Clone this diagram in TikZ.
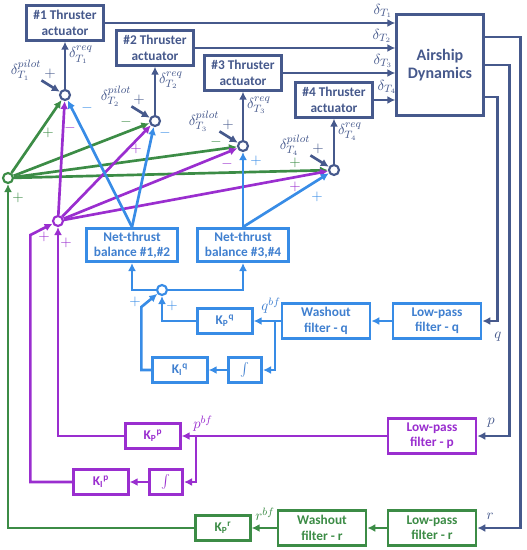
\documentclass[tikz,border=0pt]{standalone}
\usepackage{fontspec}
\setsansfont{Carlito}
\usepackage{xcolor}
\definecolor{DynNavy}{HTML}{46598C}
\definecolor{PitchBlue}{HTML}{388CE6}
\definecolor{PitchText}{HTML}{4080D0}
\definecolor{RollPurple}{HTML}{9A2ECF}
\definecolor{YawGreen}{HTML}{3C8C46}
\usepackage{tikz}
\usetikzlibrary{arrows.meta, positioning, calc}

\begin{document}
\begin{tikzpicture}[
  x=0.75pt, y=-0.75pt,
  every node/.style={font=\sffamily\bfseries\fontsize{10}{11.5}\selectfont},
  blk/.style={
    rectangle, line width=2pt, fill=white,
    align=center, inner sep=1pt},
  act/.style={blk, draw=DynNavy, text=DynNavy,
    minimum width=58pt, minimum height=26pt},
  plant/.style={blk, draw=DynNavy, text=DynNavy,
    minimum width=65pt, minimum height=76pt,
    font=\sffamily\bfseries\fontsize{12}{14}\selectfont},
  qblk/.style={blk, draw=PitchBlue, text=PitchText},
  pblk/.style={blk, draw=RollPurple, text=RollPurple},
  rblk/.style={blk, draw=YawGreen, text=YawGreen},
  filt/.style={minimum width=66pt, minimum height=26pt},
  bal/.style={minimum width=68pt, minimum height=25pt},
  gainbox/.style={minimum width=41pt, minimum height=19pt},
  intbox/.style={minimum width=25pt, minimum height=19pt},
  sumpt/.style={circle, fill=white, line width=1.6pt,
    minimum size=7.5pt, inner sep=0pt},
  arr/.style={-{Latex[length=6pt,width=6pt]}, line width=2pt},
  lbl/.style={font=\fontsize{11}{12}\selectfont, text=DynNavy, inner sep=0pt},
  sgn/.style={font=\fontsize{11}{11}\selectfont, inner sep=0pt},
]
\useasboundingbox (0,0) rectangle (527,550);

\node[act] (act1) at (65,23)  {\#1 Thruster\\actuator};
\node[act] (act2) at (155,48) {\#2 Thruster\\actuator};
\node[act] (act3) at (243,73) {\#3 Thruster\\actuator};
\node[act] (act4) at (334,100) {\#4 Thruster\\actuator};
\node[plant] (dyn) at (440,65) {Airship\\Dynamics};

\node[sumpt, draw=DynNavy] (sum1) at (65,95)  {};
\node[sumpt, draw=DynNavy] (sum2) at (155,121) {};
\node[sumpt, draw=DynNavy] (sum3) at (243,146) {};
\node[sumpt, draw=DynNavy] (sum4) at (334,170) {};

\node[sumpt, draw=YawGreen]   (sumg) at (8,178)   {};
\node[sumpt, draw=RollPurple] (sump) at (58,221)  {};
\node[sumpt, draw=PitchBlue]  (sumq) at (162,290) {};

\node[qblk, bal] (bal12) at (132,245) {Net-thrust\\balance \#1,\#2};
\node[qblk, bal] (bal34) at (243,245) {Net-thrust\\balance \#3,\#4};

\node[qblk, gainbox] (kpq) at (225,321) {K\textsubscript{P}\textsuperscript{q}};
\node[qblk, filt]    (wq)  at (326,321) {Washout\\filter - q};
\node[qblk, filt]    (lpq) at (437,321) {Low-pass\\filter - q};
\node[qblk, gainbox] (kiq) at (180,370) {K\textsubscript{I}\textsuperscript{q}};
\node[qblk, intbox]  (intq) at (245,370) {$\int$};

\node[pblk, gainbox] (kpp) at (153,436) {K\textsubscript{P}\textsuperscript{p}};
\node[pblk, filt]    (lpp) at (432,436) {Low-pass\\filter - p};
\node[pblk, gainbox] (kip) at (101,482) {K\textsubscript{I}\textsuperscript{p}};
\node[pblk, intbox]  (intp) at (166,482) {$\int$};

\node[rblk, gainbox] (kpr) at (223,528) {K\textsubscript{P}\textsuperscript{r}};
\node[rblk, filt]    (wr)  at (322,528) {Washout\\filter - r};
\node[rblk, filt]    (lpr) at (432,528) {Low-pass\\filter - r};

\draw[arr, DynNavy] (act1.east) -- (act1.east -| dyn.west);
\draw[arr, DynNavy] (act2.east) -- (act2.east -| dyn.west);
\draw[arr, DynNavy] (act3.east) -- (act3.east -| dyn.west);
\draw[arr, DynNavy] (act4.east) -- (act4.east -| dyn.west);
\node[lbl] at (383,11) {$\delta_{T_1}$};
\node[lbl] at (382,36) {$\delta_{T_2}$};
\node[lbl] at (383,61) {$\delta_{T_3}$};
\node[lbl] at (387,87) {$\delta_{T_4}$};

\draw[arr, DynNavy] ([yshift=21pt]dyn.east) -- ++(36,0) |- (lpr.east);
\draw[arr, DynNavy] (dyn.east) -- ++(25,0) |- (lpp.east);
\draw[arr, DynNavy] ([yshift=-24pt]dyn.east) -- ++(13,0) |- (lpq.east);
\node[lbl] at (498,337) {$q$};
\node[lbl] at (491,423) {$p$};
\node[lbl] at (490,516) {$r$};

\draw[arr, YawGreen] (lpr.west) -- (wr.east);
\draw[arr, YawGreen] (wr.west) -- (kpr.east);
\draw[arr, YawGreen] (kpr.west) -| (sumg);
\node[lbl, text=YawGreen] at (265,514) {$r^{bf}$};

\draw[arr, RollPurple] (lpp.west) -- (kpp.east);
\coordinate (tapp) at (196,436);
\draw[arr, RollPurple] (tapp) |- (intp.east);
\draw[arr, RollPurple] (intp.west) -- (kip.east);
\draw[arr, RollPurple] (kpp.west) -| (sump);
\draw[arr, RollPurple] (kip.west) -- ++(-42,0) -- ++(0,-247) -- (sump);
\node[lbl, text=RollPurple] at (203,424) {$p^{bf}$};

\draw[arr, PitchBlue] (lpq.west) -- (wq.east);
\draw[arr, PitchBlue] (wq.west) -- (kpq.east);
\coordinate (tapq) at (275,321);
\draw[arr, PitchBlue] (tapq) |- (intq.east);
\draw[arr, PitchBlue] (intq.west) -- (kiq.east);
\draw[arr, PitchBlue] (kpq.west) -| (sumq);
\draw[arr, PitchBlue] (kiq.west) -- ++(-10,0) -- ++(0,-63) -- (sumq);
\draw[arr, PitchBlue] (sumq.west) -| (bal12.south);
\draw[arr, PitchBlue] (sumq.east) -| (bal34.south);
\node[lbl, text=PitchText] at (271,306) {$q^{bf}$};

\draw[arr, YawGreen] (sumg) -- (sum1);
\draw[arr, YawGreen] (sumg) -- (sum2);
\draw[arr, YawGreen] (sumg) -- (sum3);
\draw[arr, YawGreen] (sumg) -- (sum4);

\draw[arr, RollPurple] (sump) -- (sum1);
\draw[arr, RollPurple] (sump) -- (sum2);
\draw[arr, RollPurple] (sump) -- (sum3);
\draw[arr, RollPurple] (sump) -- (sum4);

\draw[arr, PitchBlue] (bal12.north) -- (sum1);
\draw[arr, PitchBlue] (bal12.north) -- (sum2);
\draw[arr, PitchBlue] (bal34.north) -- (sum3);
\draw[arr, PitchBlue] (bal34.north) -- (sum4);

\draw[arr, DynNavy] (sum1) -- (act1) node[lbl, pos=0.72, right=2pt] {$\delta_{T_1}^{req}$};
\draw[arr, DynNavy] (sum2) -- (act2) node[lbl, pos=0.72, right=2pt] {$\delta_{T_2}^{req}$};
\draw[arr, DynNavy] (sum3) -- (act3) node[lbl, pos=0.72, right=2pt] {$\delta_{T_3}^{req}$};
\draw[arr, DynNavy] (sum4) -- (act4) node[lbl, pos=0.72, right=2pt] {$\delta_{T_4}^{req}$};

\node[lbl] (pil1) at (26,70)  {$\delta_{T_1}^{pilot}$};
\node[lbl] (pil2) at (116,96) {$\delta_{T_2}^{pilot}$};
\node[lbl] (pil3) at (204,121) {$\delta_{T_3}^{pilot}$};
\node[lbl] (pil4) at (295,145) {$\delta_{T_4}^{pilot}$};
\draw[arr, DynNavy] (pil1.south east) -- (sum1);
\draw[arr, DynNavy] (pil2.south east) -- (sum2);
\draw[arr, DynNavy] (pil3.south east) -- (sum3);
\draw[arr, DynNavy] (pil4.south east) -- (sum4);
\node[sgn, text=DynNavy] at (50,74)   {$+$};
\node[sgn, text=DynNavy] at (139,100) {$+$};
\node[sgn, text=DynNavy] at (228,125) {$+$};
\node[sgn, text=DynNavy] at (318,149) {$+$};

\node[sgn, text=YawGreen]   at (48,133)  {$+$};
\node[sgn, text=RollPurple] at (70,128)  {$-$};
\node[sgn, text=PitchBlue]  at (87,108)  {$-$};
\node[sgn, text=YawGreen]   at (126,122) {$-$};
\node[sgn, text=RollPurple] at (136,149) {$+$};
\node[sgn, text=PitchBlue]  at (165,133) {$-$};
\node[sgn, text=YawGreen]   at (216,142) {$-$};
\node[sgn, text=RollPurple] at (227,164) {$-$};
\node[sgn, text=PitchBlue]  at (256,161) {$+$};
\node[sgn, text=YawGreen]   at (295,163) {$+$};
\node[sgn, text=RollPurple] at (295,187) {$+$};
\node[sgn, text=PitchBlue]  at (317,197) {$+$};

\node[sgn, text=YawGreen]   at (18,198)  {$+$};
\node[sgn, text=RollPurple] at (44,237)  {$+$};
\node[sgn, text=RollPurple] at (66,243)  {$+$};
\node[sgn, text=PitchBlue]  at (135,302) {$+$};
\node[sgn, text=PitchBlue]  at (172,306) {$+$};

\end{tikzpicture}
\end{document}
